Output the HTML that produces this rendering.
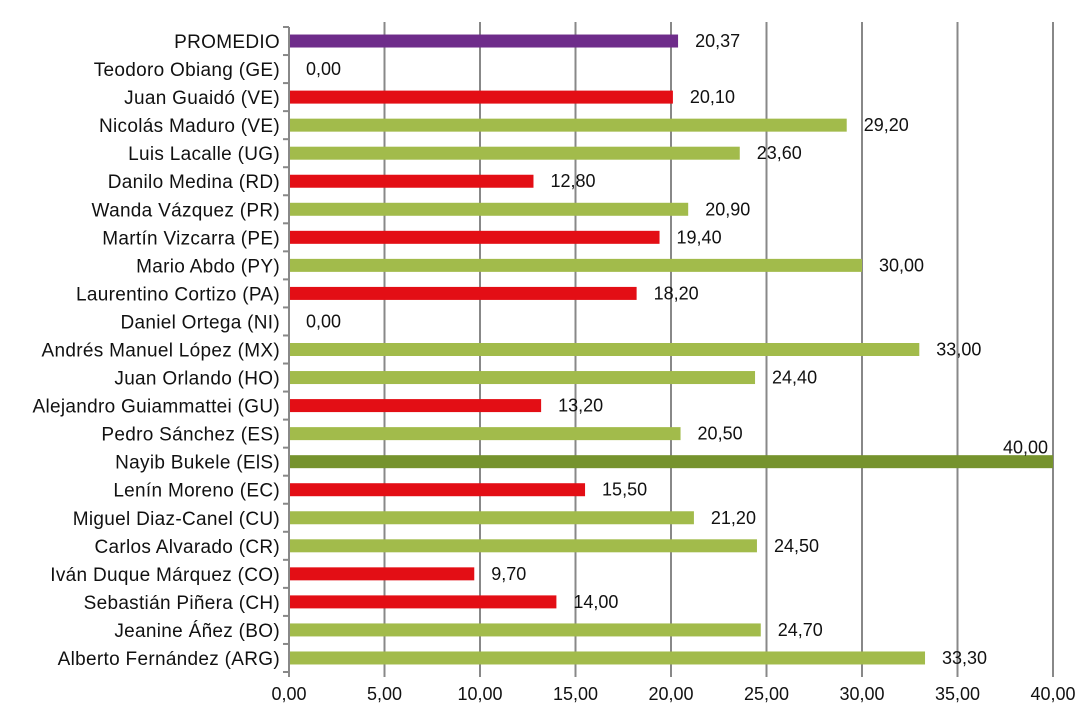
<!DOCTYPE html>
<html><head><meta charset="utf-8"><style>
body{margin:0;background:#fff}
svg text{font-family:"Liberation Sans",sans-serif;font-size:18px;fill:#111}
svg text.cat{font-size:19px;letter-spacing:0.3px}
</style></head><body>
<svg id="c" width="1091" height="721"></svg>
<script>
const categories=["PROMEDIO","Teodoro Obiang (GE)","Juan Guaidó (VE)","Nicolás Maduro (VE)","Luis Lacalle (UG)","Danilo Medina (RD)","Wanda Vázquez (PR)","Martín Vizcarra (PE)","Mario Abdo (PY)","Laurentino Cortizo (PA)","Daniel Ortega (NI)","Andrés Manuel López  (MX)","Juan Orlando (HO)","Alejandro Guiammattei (GU)","Pedro Sánchez (ES)","Nayib Bukele (ElS)","Lenín Moreno (EC)","Miguel Diaz-Canel (CU)","Carlos Alvarado (CR)","Iván Duque Márquez (CO)","Sebastián Piñera (CH)","Jeanine Áñez (BO)","Alberto Fernández (ARG)"];
const values=[20.37,0,20.1,29.2,23.6,12.8,20.9,19.4,30,18.2,0,33,24.4,13.2,20.5,40,15.5,21.2,24.5,9.7,14,24.7,33.3];
const groups=["avg","r","r","g","g","r","g","r","g","r","r","g","g","r","g","top","r","g","g","r","r","g","g"];
const ticks=[0,5,10,15,20,25,30,35,40];
const colors={avg:"#6e2c8a",r:"#e30e15",g:"#a2bb4b",top:"#76932d"};
const svg=document.getElementById('c');const NS="http://www.w3.org/2000/svg";
const X0=289,X1=1053,Y0=27,Y1=672,band=(Y1-Y0)/categories.length;
const x=v=>X0+(v/40)*(X1-X0);
const yc=i=>Y0+band*(i+0.5);
function mk(t,a){const e=document.createElementNS(NS,t);for(const k in a)e.setAttribute(k,a[k]);svg.appendChild(e);return e;}
ticks.forEach(t=>{
 const l=mk('line',{x1:x(t),x2:x(t),y1:t===0?Y0:22,y2:Y1+5,stroke:'#888','stroke-width':2});
 
 
 const tx=mk('text',{x:x(t),y:Y1+28,'text-anchor':'middle'});tx.textContent=t.toFixed(2).replace('.',',');
 
 
});
for(let i=0;i<=categories.length;i++){const l=mk('line',{x1:X0-6,x2:X0,y1:Y0+band*i,y2:Y0+band*i,stroke:'#888','stroke-width':2});
 
 }
categories.forEach((c,i)=>{
 const t=mk('text',{x:X0-9,y:yc(i)+7,'text-anchor':'end','class':'cat'});t.textContent=c;
 
 
 if(values[i]>0){const b=mk('rect',{x:X0+1,y:yc(i)-6.5,width:x(values[i])-X0-1,height:13,fill:colors[groups[i]]});
  
  }
 const lx=values[i]>=39?x(values[i])-50:x(values[i])+17;
 const ly=values[i]>=39?yc(i)-8:yc(i)+6;
 const v=mk('text',{x:lx,y:ly});v.textContent=values[i].toFixed(2).replace('.',',');
 
 
});
</script>
</body></html>
